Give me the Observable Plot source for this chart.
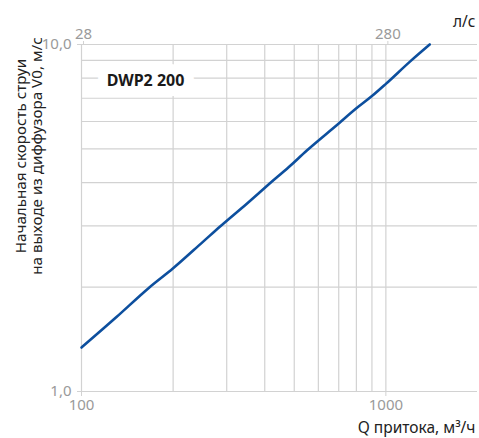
<!DOCTYPE html>
<html>
<head>
<meta charset="utf-8">
<script src="https://cdn.jsdelivr.net/npm/d3@7"></script>
<script src="https://cdn.jsdelivr.net/npm/@observablehq/plot@0.6"></script>
<style>
  html, body { margin: 0; padding: 0; background: #fff; }
  #chart svg { display: block; }
</style>
</head>
<body>
<div id="chart"></div>
<script>
// Data
const flowM3h = [100, 130, 166, 200, 250, 286, 350, 416, 480, 550, 700, 800, 900, 1000, 1200, 1394];
const velocity = [1.339, 1.636, 1.985, 2.265, 2.695, 2.995, 3.484, 3.98, 4.435, 4.95, 5.92, 6.548, 7.1, 7.7, 8.925, 10.0];

const xGridValues = [100, 200, 300, 400, 500, 600, 700, 800, 900, 1000];
const yGridValues = [1, 2, 3, 4, 5, 6, 7, 8, 9, 10];

const xTickValues = [100, 1000];
const xTickLabels = ["100", "1000"];
const topTickLabels = ["28", "280"];
const yTickValues = [1, 10];
const yTickLabels = ["1,0", "10,0"];

const seriesName = "DWP2 200";
const yTitle = "Начальная скорость струи\nна выходе из диффузора V0, м/с";
const xTitle = "Q притока, м³/ч";
const topUnit = "л/с";

const data = flowM3h.map((q, i) => ({q, v: velocity[i]}));

const grid = "#d2d2d2";
const tickText = "#9a9a9a";
const font = "Noto Sans, Open Sans, sans-serif";

const chart = Plot.plot({
  width: 479,
  height: 438,
  marginLeft: 81,
  marginRight: 2,
  marginTop: 44,
  marginBottom: 47,
  style: {fontFamily: font, background: "#fff"},
  x: {type: "log", domain: [100, 2000]},
  y: {type: "log", domain: [1, 10]},
  marks: [
    Plot.ruleX(xGridValues, {x: d => d, stroke: grid, strokeWidth: 1.2}),
    Plot.ruleY(yGridValues, {y: d => d, stroke: grid, strokeWidth: 1.2}),
    Plot.axisX({anchor: "bottom", ticks: xTickValues, tickFormat: (d) => xTickLabels[xTickValues.indexOf(d)],
      tickSize: 5, tickPadding: 3, stroke: grid, fill: tickText, fontSize: 15, label: null}),
    Plot.axisX({anchor: "top", ticks: xTickValues, tickFormat: (d) => topTickLabels[xTickValues.indexOf(d)],
      tickSize: 4, tickPadding: 2, stroke: grid, fill: tickText, fontSize: 15, label: null, dx: 2}),
    Plot.axisY({anchor: "left", ticks: yTickValues, tickFormat: (d) => yTickLabels[yTickValues.indexOf(d)],
      tickSize: 4, tickPadding: 6, stroke: grid, fill: tickText, fontSize: 15, label: null}),
    Plot.line(data, {x: "q", y: "v", stroke: "#0d4f9e", strokeWidth: 2.6, curve: "monotone-x", strokeLinejoin: "round", strokeLinecap: "round"}),
    Plot.text([seriesName], {text: d => d, frameAnchor: "top-left", dx: 64, dy: 36,
      fontSize: 16, fontWeight: "bold", fill: "#1a1a1a", stroke: "#fff", strokeWidth: 20, strokeLinejoin: "miter", textAnchor: "middle", lineAnchor: "middle"}),
    Plot.text([yTitle], {text: d => d, frameAnchor: "left", dx: -53, dy: -62, rotate: -90,
      fontSize: 15.2, fill: "#222", textAnchor: "middle", lineAnchor: "middle", lineHeight: 1.05}),
    Plot.text([xTitle], {text: d => d, frameAnchor: "bottom-right", dx: -2, dy: 37,
      fontSize: 15.5, fill: "#222", textAnchor: "end", lineAnchor: "middle"}),
    Plot.text([topUnit], {text: d => d, frameAnchor: "top-right", dx: -2, dy: -22,
      fontSize: 15.5, fill: "#222", textAnchor: "end", lineAnchor: "middle"})
  ]
});
document.getElementById("chart").appendChild(chart);
</script>
</body>
</html>
